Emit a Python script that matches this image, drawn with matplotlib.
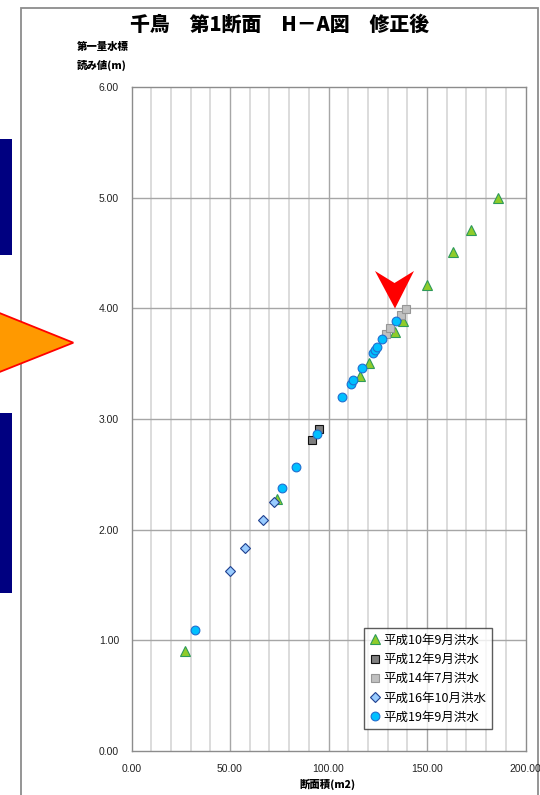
import matplotlib
matplotlib.use("Agg")
import matplotlib.pyplot as plt
from matplotlib.patches import Polygon, Rectangle

plt.rcParams['font.family'] = ['Liberation Sans', 'Noto Sans CJK JP', 'DejaVu Sans']

# 平成10年9月洪水
h10_area = [27.0, 73.7, 116.0, 120.7, 133.8, 138.0, 150.2, 163.4, 172.3, 186.2]
h10_level = [0.90, 2.28, 3.39, 3.51, 3.79, 3.89, 4.21, 4.51, 4.71, 5.00]
# 平成12年9月洪水
h12_area = [91.5, 95.3]
h12_level = [2.81, 2.91]
# 平成14年7月洪水
h14_area = [129.0, 131.2, 136.8, 139.2]
h14_level = [3.77, 3.82, 3.94, 3.99]
# 平成16年10月洪水
h16_area = [50.0, 57.6, 66.6, 72.2]
h16_level = [1.63, 1.83, 2.09, 2.25]
# 平成19年9月洪水
h19_area = [32.2, 76.4, 83.3, 94.0, 107.0, 111.2, 112.6, 117.2, 122.7, 123.6, 124.5, 127.4, 134.1]
h19_level = [1.09, 2.38, 2.57, 2.86, 3.20, 3.32, 3.35, 3.46, 3.60, 3.62, 3.65, 3.72, 3.89]

series_labels = ['平成10年9月洪水', '平成12年9月洪水', '平成14年7月洪水',
                 '平成16年10月洪水', '平成19年9月洪水']

x_ticks = [0, 50, 100, 150, 200]
y_ticks = [0, 1, 2, 3, 4, 5, 6]

W, H = 540, 795
fig = plt.figure(figsize=(W / 100, H / 100), dpi=100)
CJK = ['Noto Sans CJK JP', 'DejaVu Sans']


def fx(px):
    return px / W


def fy(py):
    return 1 - py / H


# outer chart frame
fig.add_artist(Rectangle((fx(21), fy(800)), fx(537.5) - fx(21), fy(7.7) - fy(800),
                         transform=fig.transFigure, fill=False, edgecolor='#8c8c8c',
                         linewidth=1.3, zorder=0))

ax = fig.add_axes([fx(131.5), fy(751), fx(525.5) - fx(131.5), fy(87) - fy(751)])
ax.set_xlim(0, 200)
ax.set_ylim(0, 6)

# grid: light minor verticals every 10, darker at every 50, horizontals every 1
for xv in range(10, 200, 10):
    if xv % 50 == 0:
        ax.axvline(xv, color='#a6a6a6', linewidth=1.0, zorder=1)
    else:
        ax.axvline(xv, color='#d9d9d9', linewidth=1.3, zorder=1)
for yv in range(1, 6):
    ax.axhline(yv, color='#a6a6a6', linewidth=1.0, zorder=1)

for s in ax.spines.values():
    s.set_color('#8c8c8c')
    s.set_linewidth(1.0)

ax.set_xticks(x_ticks)
ax.set_yticks(y_ticks)
ax.set_xticklabels([f"{v:.2f}" for v in x_ticks])
ax.set_yticklabels([f"{v:.2f}" for v in y_ticks])
ax.tick_params(length=0, labelsize=7.5, colors='#222222', pad=9)

ms = 6.3
ax.plot(h10_area, h10_level, linestyle='none', marker='^', markersize=ms + 0.5,
        markerfacecolor='#8fcc2a', markeredgecolor='#2e9a5a', markeredgewidth=0.8,
        label=series_labels[0], zorder=3)
ax.plot(h12_area, h12_level, linestyle='none', marker='s', markersize=ms - 0.5,
        markerfacecolor='#7f7f7f', markeredgecolor='#111111', markeredgewidth=0.8,
        label=series_labels[1], zorder=3)
ax.plot(h14_area, h14_level, linestyle='none', marker='s', markersize=ms - 0.5,
        markerfacecolor='#c0c0c0', markeredgecolor='#969696', markeredgewidth=0.8,
        label=series_labels[2], zorder=3)
ax.plot(h16_area, h16_level, linestyle='none', marker='D', markersize=ms - 1.5,
        markerfacecolor='#99ccff', markeredgecolor='#1f3f8f', markeredgewidth=0.8,
        label=series_labels[3], zorder=3)
ax.plot(h19_area, h19_level, linestyle='none', marker='o', markersize=ms,
        markerfacecolor='#00c0ff', markeredgecolor='#1f6fd0', markeredgewidth=0.8,
        label=series_labels[4], zorder=4)

handles, labels = ax.get_legend_handles_labels()
leg = fig.legend(handles, labels, loc='upper left',
                 bbox_to_anchor=(fx(364), fy(628)), bbox_transform=fig.transFigure,
                 frameon=True, fancybox=False,
                 prop={'family': CJK, 'size': 9},
                 handletextpad=0.25, handlelength=0.85, labelspacing=0.5,
                 borderpad=0.45, borderaxespad=0)
leg.get_frame().set_edgecolor('#333333')
leg.get_frame().set_linewidth(1.0)
leg.set_zorder(10)

# titles and axis captions
fig.text(fx(280), fy(25), '千鳥　第1断面　H－A図　修正後', ha='center', va='center',
         fontsize=14.3, fontweight='heavy', family=CJK)
fig.text(fx(77), fy(47), '第一量水標', ha='left', va='center', fontsize=7.5,
         fontweight='heavy', family=CJK)
fig.text(fx(77), fy(65), '読み値(m)', ha='left', va='center', fontsize=7.5,
         fontweight='heavy', family=CJK)
fig.text(fx(327), fy(784), '断面積(m2)', ha='center', va='center', fontsize=7.5,
         fontweight='heavy', family=CJK)

# side markers
for top, bot in [(139, 255), (413, 593)]:
    fig.add_artist(Rectangle((fx(0), fy(bot)), fx(12), fy(top) - fy(bot),
                             transform=fig.transFigure, facecolor='#000080',
                             edgecolor='none', zorder=5))
fig.add_artist(Polygon([(fx(-8), fy(310)), (fx(73.3), fy(342.7)), (fx(-8), fy(375))],
                       closed=True, transform=fig.transFigure, facecolor='#ff9900',
                       edgecolor='#ff0000', linewidth=1.3, zorder=6))

# red pointer arrow
fig.add_artist(Polygon([(fx(375), fy(271)), (fx(394.5), fy(283)), (fx(414), fy(271)),
                        (fx(395), fy(308.5))],
                       closed=True, transform=fig.transFigure, facecolor='#ff0000',
                       edgecolor='none', zorder=7))

fig.savefig('out.png', dpi=100, facecolor='white')
